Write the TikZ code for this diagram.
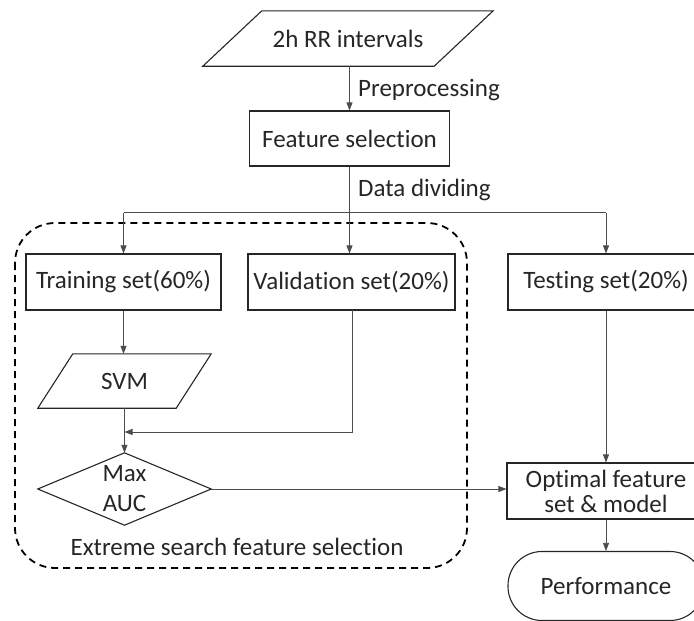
\documentclass[tikz,border=0pt]{standalone}
\usepackage{fontspec}
\setmainfont{Carlito}[Ligatures=NoCommon]
\usetikzlibrary{arrows.meta,calc}
\begin{document}
\begin{tikzpicture}[x=1pt,y=-1pt,
  txt/.style={font=\fontsize{25}{28}\selectfont, text=black!85},
  box/.style={txt, draw=black!85, line width=1.1pt, inner sep=0pt, minimum height=56pt},
  ghost/.style={txt, inner sep=0pt},
  conn/.style={draw=black!70, line width=0.7pt},
  arr/.style={conn, -{Triangle[length=8pt,width=6pt]}},
  shp/.style={draw=black!85, line width=1.1pt},
  lab/.style={txt, anchor=west, inner sep=0pt}]
\useasboundingbox (0,0) rectangle (694,621);
\clip (0,0) rectangle (694,621);
% dashed group
\draw[black, line width=1.8pt, dash pattern=on 7pt off 5pt, rounded corners=40pt]
  (15,223) rectangle (467,568);
% nodes
\node[ghost, minimum width=290pt, minimum height=55pt] (in) at (348,38.5) {2h RR intervals};
\draw[shp] (in.south west) -- ([xshift=59pt]in.north west) -- (in.north east) -- ([xshift=-59pt]in.south east) -- cycle;
\node[box, minimum width=200pt, minimum height=55pt] (fs) at (349.5,138.5) {Feature selection};
\node[box, minimum width=195pt] (train) at (123.5,282) {Training set(60\%)};
\node[box, minimum width=207pt] (val) at (351.5,282) {Validation set(20\%)};
\node[box, minimum width=196pt] (test) at (606,282) {Testing set(20\%)};
\node[ghost, minimum width=173pt, minimum height=54pt] (svm) at (124.5,381) {SVM};
\draw[shp] (svm.south west) -- ([xshift=35pt]svm.north west) -- (svm.north east) -- ([xshift=-35pt]svm.south east) -- cycle;
\node[ghost, minimum width=173pt, minimum height=72pt, align=center,
  font=\fontsize{25}{30}\selectfont] (d) at (124.5,489) {Max\\AUC};
\draw[shp] (d.north) -- (d.east) -- (d.south) -- (d.west) -- cycle;
\node[box, minimum width=198pt, align=center, font=\fontsize{25}{25}\selectfont] (opt) at (606,491) {Optimal feature\\set \& model};
\node[box, minimum width=196pt, minimum height=69pt, rounded corners=34pt] (perf) at (606,586) {Performance};
% labels
\node[lab] (pre) at (358,90) {Preprocessing};
\node[lab] (dd) at (358,190) {Data dividing};
\node[txt, inner sep=0pt] (ext) at (237,547) {Extreme search feature selection};
% connectors
\draw[arr] (in.south -| fs.north) -- (fs.north);
\coordinate (split) at ($(fs.south)+(0,46)$);
\draw[conn] (train.north |- split) -- (test.north |- split);
\draw[arr] (fs.south) -- (fs.south |- val.north);
\draw[arr] (train.north |- split) -- (train.north);
\draw[arr] (test.north |- split) -- (test.north);
\draw[arr] (train.south) -- (train.south |- svm.north);
\coordinate (j) at (124.5,432);
\draw[conn] (svm.south) -- (j);
\draw[arr] (352,310) |- (j);
\draw[arr] (j) -- (d.north);
\draw[arr] (d.east) -- (opt.west |- d.east);
\draw[arr] (test.south) -- (opt.north);
\draw[arr] (opt.south) -- (perf.north);
\end{tikzpicture}
\end{document}
